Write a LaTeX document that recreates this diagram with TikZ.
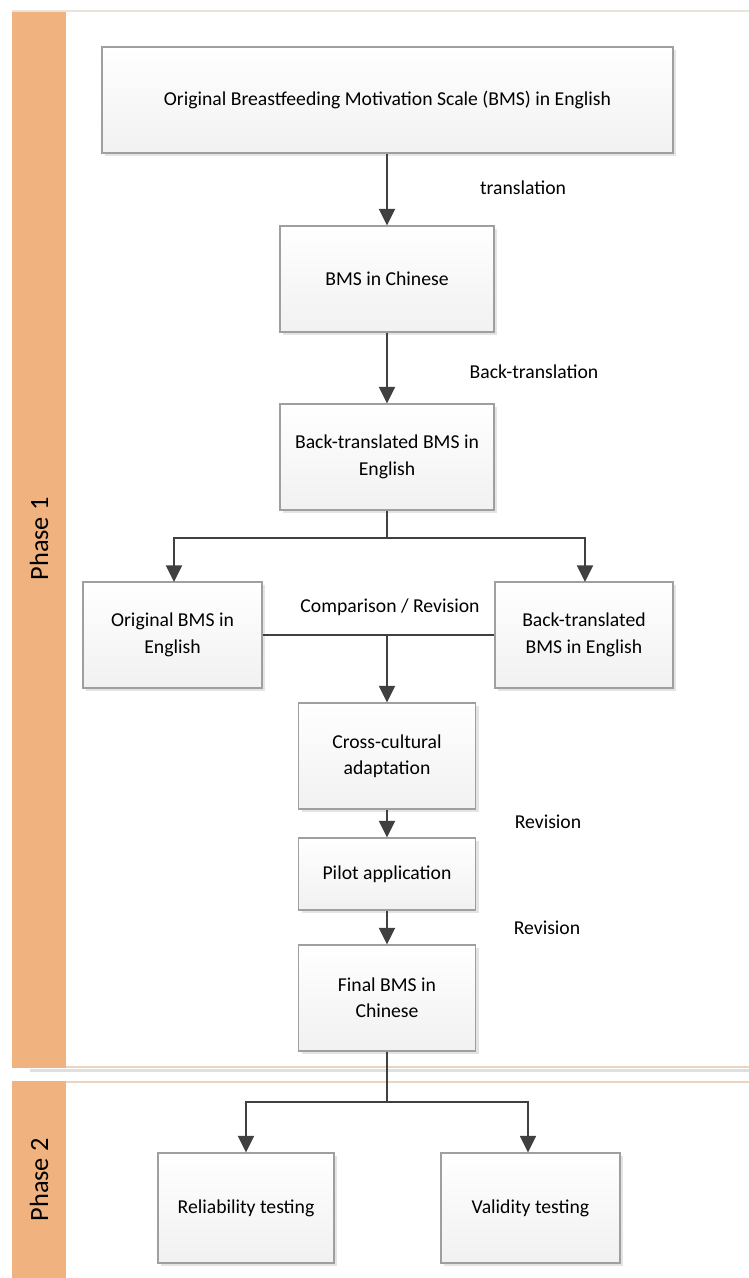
\documentclass[tikz,border=0pt]{standalone}
\usepackage{fontspec}
\setmainfont{Carlito}
\usepackage{tikz}
\usetikzlibrary{arrows.meta, calc, shadows}
\definecolor{lanefill}{RGB}{240,179,127}
\definecolor{laneline}{RGB}{234,228,216}
\definecolor{arrowgray}{RGB}{64,64,64}
\begin{document}
\begin{tikzpicture}[scale=1.0,
  box/.style={draw=gray!75, line width=0.6pt, top color=white, bottom color=gray!11,
    drop shadow={shadow xshift=0.6mm, shadow yshift=-0.6mm, fill=gray!35, opacity=0.6},
    align=center, inner sep=2pt, font=\fontsize{11.2}{15}\selectfont},
  lbl/.style={font=\fontsize{11.2}{15}\selectfont},
  phase/.style={rotate=90, font=\fontsize{15}{17}\selectfont},
  arr/.style={draw=arrowgray, line width=1.5pt, -{Triangle[width=9pt,length=9.5pt]}},
  link/.style={draw=arrowgray, line width=1.1pt}]
\useasboundingbox (0,0) rectangle (14.98,-25.56);
\fill[white] (0,0) rectangle (14.98,-25.56);
\fill[lanefill] (0.24,-0.22) rectangle (1.32,-21.36);
\fill[lanefill] (0.24,-21.62) rectangle (1.32,-25.56);
\draw[laneline, line width=1pt] (0.24,-0.22)--(14.98,-0.22);
\draw[laneline!70!lanefill, line width=0.8pt] (1.32,-21.34)--(14.98,-21.34);
\draw[gray!25, line width=1.2pt] (0.6,-21.41)--(14.98,-21.41);
\draw[laneline!70!lanefill, line width=0.8pt] (1.32,-21.64)--(14.98,-21.64);
\path
(0.78,-10.78) node[phase] (ph1) {Phase 1};
\path
(0.78,-23.60) node[phase] (ph2) {Phase 2};
\node[box, minimum width=11.42cm, minimum height=2.12cm] (orig) at (7.75,-2.0) {Original Breastfeeding Motivation Scale (BMS) in English};
\node[box, minimum width=4.28cm, minimum height=2.12cm] (chin) at (7.74,-5.58) {BMS in Chinese};
\node[box, minimum width=4.28cm, minimum height=2.12cm] (back) at (7.74,-9.14) {Back-translated BMS in\\English};
\node[box, minimum width=3.58cm, minimum height=2.12cm] (origb) at (3.45,-12.7) {Original BMS in\\English};
\node[box, minimum width=3.56cm, minimum height=2.12cm] (backb) at (11.68,-12.7) {Back-translated\\BMS in English};
\node[box, minimum width=3.54cm, minimum height=2.12cm] (cross) at (7.74,-15.12) {Cross-cultural\\adaptation};
\node[box, minimum width=3.54cm, minimum height=1.44cm] (pilot) at (7.74,-17.48) {Pilot application};
\node[box, minimum width=3.54cm, minimum height=2.12cm] (final) at (7.74,-19.96) {Final BMS in\\Chinese};
\node[box, minimum width=3.52cm, minimum height=2.2cm] (rel) at (4.92,-24.16) {Reliability testing};
\node[box, minimum width=3.58cm, minimum height=2.2cm] (val) at (10.61,-24.16) {Validity testing};
\path
(10.46,-3.76) node[lbl] (tr) {translation};
\path
(10.68,-7.44) node[lbl] (btr) {Back-translation};
\path
(7.8,-12.14) node[lbl] (cmp) {Comparison / Revision};
\path
(10.96,-16.44) node[lbl] (rev1) {Revision};
\path
(10.94,-18.56) node[lbl] (rev2) {Revision};
\coordinate (split1) at (7.74,-10.76);
\coordinate (merge) at (7.74,-12.7);
\coordinate (split2) at (7.74,-22.04);
\draw[arr] (orig.south -| chin.north) -- (chin.north);
\draw[arr] (chin.south) -- (back.north);
\draw[link] (back.south) -- (split1);
\draw[arr] (split1) -| (3.48,-11.64);
\draw[arr] (split1) -| (11.7,-11.64);
\draw[link] (origb.east) -- (backb.west);
\draw[arr] (merge) -- (cross.north);
\draw[arr] (cross.south) -- (pilot.north);
\draw[arr] (pilot.south) -- (final.north);
\draw[link] (final.south) -- (split2);
\draw[arr] (split2) -| (rel.north);
\draw[arr] (split2) -| ($(val.north)+(-0.05,0)$);
\end{tikzpicture}
\end{document}
